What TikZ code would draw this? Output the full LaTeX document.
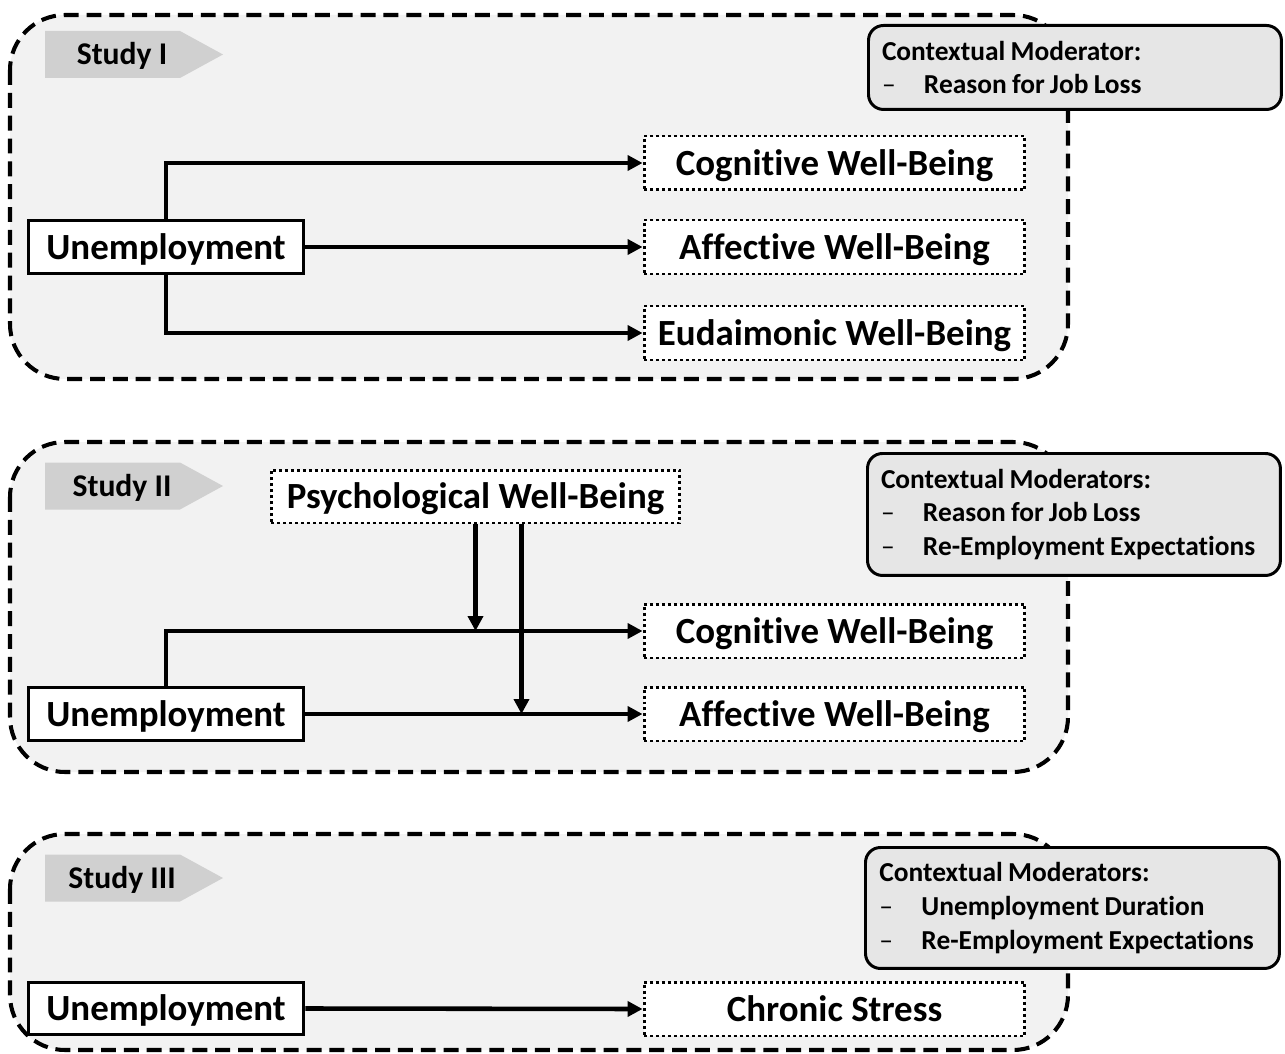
\documentclass[tikz,border=0pt]{standalone}
\usepackage{fontspec}
\setmainfont{Carlito}[Ligatures=NoCommon]
\usetikzlibrary{arrows.meta}
\definecolor{panelfill}{HTML}{F2F2F2}
\definecolor{tagfill}{HTML}{D0D0D0}
\definecolor{modfill}{HTML}{E6E6E6}
\newcommand{\itemdash}{\makebox[0.84cm][l]{\mdseries --}}
\begin{document}
\begin{tikzpicture}[x=0.02cm, y=-0.02cm,
  panel/.style={draw, fill=panelfill, line width=2.3pt, dash pattern=on 8.5pt off 4.5pt, rounded corners=1.1cm},
  tagtext/.style={font=\fontsize{18}{20}\selectfont\bfseries, text height=12.4pt, text depth=0.6pt},
  mainfont/.style={font=\fontsize{21}{24}\selectfont\bfseries, text height=14.6pt, text depth=0.8pt},
  cause/.style={mainfont, draw, fill=white, line width=1.7pt, minimum width=5.52cm, minimum height=1.05cm, inner sep=0pt},
  outcome/.style={mainfont, draw, fill=white, line width=1.7pt, dash pattern=on 1.7pt off 1.7pt, minimum width=7.62cm, minimum height=1.08cm, inner sep=0pt},
  modbox/.style={draw, fill=modfill, line width=1.7pt, rounded corners=0.3cm, align=left, anchor=north west, minimum width=8.26cm, inner xsep=0.27cm, text width=7.72cm, font=\fontsize{15.6}{19.3}\selectfont\bfseries, execute at begin node={\spaceskip=3pt plus 1pt minus 1pt\relax}},
  conn/.style={line width=2.6pt, -{Triangle[length=8.5pt,width=8.5pt]}}
]
\useasboundingbox (0,0) rectangle (1285,1054);

% ---------- Study I ----------
\draw[panel] (10,15) rectangle (1068,379);
\fill[tagfill] (45,31) -- (180,31) -- (223,54.5) -- (180,78) -- (45,78) -- cycle;
\node[tagtext] (tag1) at (122,54.5) {Study I};
\node[modbox, minimum height=1.68cm] (mod1) at (867,24) {Contextual Moderator:\\\itemdash Reason for Job Loss};

\node[cause] (u1) at (166,247) {Unemployment};
\node[outcome] (cog1) at (834.5,163) {Cognitive Well-Being};
\node[outcome] (aff1) at (834.5,247) {Affective Well-Being};
\node[outcome] (eud1) at (834.5,333) {Eudaimonic Well-Being};

\draw[conn] (u1.north) |- (cog1.west);
\draw[conn] (u1.east) -- (aff1.west);
\draw[conn] (u1.south) |- (eud1.west);

% ---------- Study II ----------
\draw[panel] (10,442) rectangle (1068,772);
\fill[tagfill] (45,462.5) -- (180,462.5) -- (223,486) -- (180,509.5) -- (45,509.5) -- cycle;
\node[tagtext] (tag2) at (122,486) {Study II};
\node[modbox, minimum height=2.44cm] (mod2) at (866,452) {Contextual Moderators:\\\itemdash Reason for Job Loss\\\itemdash Re-Employment Expectations};

\node[outcome, minimum width=8.18cm, minimum height=1.06cm] (psy2) at (475.5,496.5) {Psychological Well-Being};
\node[outcome] (cog2) at (834.5,631) {Cognitive Well-Being};
\node[outcome] (aff2) at (834.5,714) {Affective Well-Being};
\node[cause] (u2) at (166,714) {Unemployment};

\draw[conn] (u2.north) |- (cog2.west);
\draw[conn] (u2.east) -- (aff2.west);
\draw[conn] (psy2.south) -- (psy2.south |- cog2.west);
\draw[conn] ([xshift=0.92cm]psy2.south) coordinate (m2) -- (m2 |- aff2.west);

% ---------- Study III ----------
\draw[panel] (10,834) rectangle (1068,1050);
\fill[tagfill] (45,854.5) -- (180,854.5) -- (223,878) -- (180,901.5) -- (45,901.5) -- cycle;
\node[tagtext] (tag3) at (122,878) {Study III};
\node[modbox, minimum height=2.42cm, inner xsep=0.28cm] (mod3) at (864,846) {Contextual Moderators:\\\itemdash Unemployment Duration\\\itemdash Re-Employment Expectations};

\node[cause] (u3) at (166,1008.5) {Unemployment};
\node[outcome] (cs3) at (834.5,1009) {Chronic Stress};

\draw[conn] (u3.east) -- (cs3.west);
\end{tikzpicture}
\end{document}
